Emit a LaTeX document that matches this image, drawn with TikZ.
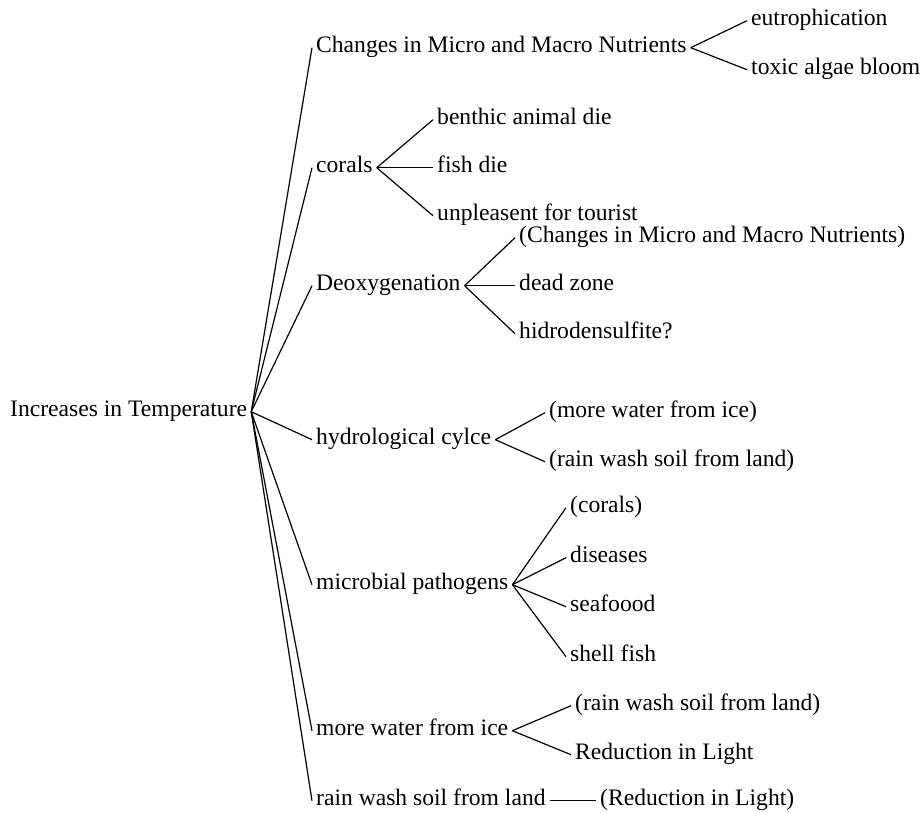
\documentclass[tikz,border=0pt]{standalone}
\usepackage{fontspec}
\setmainfont{Liberation Serif}
\begin{document}
\begin{tikzpicture}[x=1pt,y=-1pt,
  every node/.style={font=\fontsize{23.6}{28}\selectfont, anchor=base west,
    inner xsep=4pt, inner ysep=0pt, text height=0.86em, text depth=0pt},
  link/.style={draw=black, line width=1.2pt}]
\useasboundingbox (0,0) rectangle (924,812);

% root
\node (root) at (6,416) {Increases in Temperature};

% first level
\node (nut)  at (312,52)  {Changes in Micro and Macro Nutrients};
\node (cor)  at (312,172) {corals};
\node (deox) at (312,290) {Deoxygenation};
\node (hyd)  at (312,444) {hydrological cylce};
\node (mic)  at (312,589) {microbial pathogens};
\node (ice)  at (312,735) {more water from ice};
\node (rain) at (312,805) {rain wash soil from land};

% second level
\node (eut)  at (747,25)  {eutrophication};
\node (alg)  at (747,74)  {toxic algae bloom};
\node (ben)  at (433,124) {benthic animal die};
\node (fish) at (433,172) {fish die};
\node (tour) at (433,220) {unpleasent for tourist};
\node (dnut) at (515,242) {(Changes in Micro and Macro Nutrients)};
\node (dead) at (515,290) {dead zone};
\node (hid)  at (515,338) {hidrodensulfite?};
\node (hice) at (545,417) {(more water from ice)};
\node (hrn)  at (545,466) {(rain wash soil from land)};
\node (mcor) at (566,512) {(corals)};
\node (dis)  at (566,562) {diseases};
\node (sea)  at (566,611) {seafoood};
\node (shel) at (566,661) {shell fish};
\node (irn)  at (571,710) {(rain wash soil from land)};
\node (ired) at (571,759) {Reduction in Light};
\node (rred) at (596,805) {(Reduction in Light)};

% connectors
\foreach \c in {nut,cor,deox,hyd,mic,ice,rain}
  \draw[link] (root.east) -- (\c.west);
\foreach \c in {eut,alg} \draw[link] (nut.east) -- (\c.west);
\foreach \c in {ben,fish,tour} \draw[link] (cor.east) -- (\c.west);
\foreach \c in {dnut,dead,hid} \draw[link] (deox.east) -- (\c.west);
\foreach \c in {hice,hrn} \draw[link] (hyd.east) -- (\c.west);
\foreach \c in {mcor,dis,sea,shel} \draw[link] (mic.east) -- (\c.west);
\foreach \c in {irn,ired} \draw[link] (ice.east) -- (\c.west);
\draw[link] (rain.east) -- (rred.west);
\end{tikzpicture}
\end{document}
